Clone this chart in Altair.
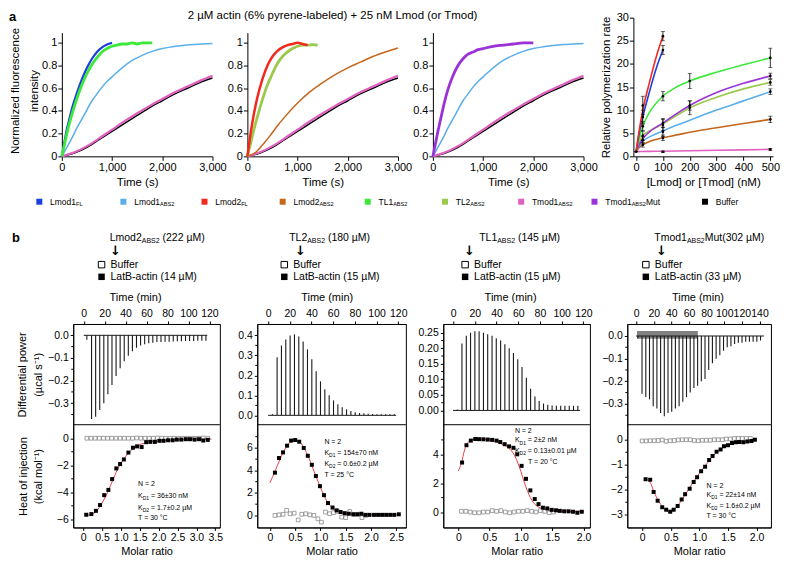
import altair as alt
import pandas as pd

FONT = "Liberation Sans"

# ---------------- (a) pyrene kinetics: normalized fluorescence vs time (s)
LMOD1FL_T = [0, 50, 100, 150, 200, 300, 400, 500, 600, 700, 800, 900, 1000]
LMOD1FL_V = [0, 0.12, 0.24, 0.33, 0.42, 0.56, 0.68, 0.78, 0.86, 0.92, 0.96, 0.985, 1.0]
TL1_T = [0, 50, 100, 150, 200, 300, 400, 500, 600, 700, 800, 900, 1000, 1100, 1200, 1300, 1400, 1500, 1600, 1700, 1800]
TL1_V = [0, 0.1, 0.2, 0.29, 0.37, 0.51, 0.63, 0.73, 0.81, 0.87, 0.92, 0.95, 0.97, 0.98, 0.99, 0.99, 1.0, 0.99, 1.0, 1.0, 1.0]
LMOD1ABS2_T = [0, 100, 200, 300, 400, 500, 600, 700, 800, 900, 1000, 1200, 1400, 1600, 1800, 2000, 2200, 2400, 2600, 2800, 3000]
LMOD1ABS2_V = [0, 0.08, 0.16, 0.25, 0.33, 0.41, 0.49, 0.55, 0.61, 0.66, 0.70, 0.78, 0.845, 0.89, 0.925, 0.95, 0.965, 0.977, 0.985, 0.99, 0.995]
SLOW_T = [0, 250, 500, 750, 1000, 1250, 1500, 1750, 2000, 2250, 2500, 2750, 3000]
BUFFER_V = [0, 0.03, 0.08, 0.15, 0.22, 0.29, 0.36, 0.43, 0.49, 0.55, 0.60, 0.65, 0.69]
TMOD1ABS2_V = [0, 0.035, 0.09, 0.16, 0.235, 0.31, 0.38, 0.445, 0.505, 0.565, 0.615, 0.665, 0.71]
LMOD2FL_T = [0, 50, 100, 150, 200, 300, 400, 500, 600, 700, 800, 900, 1000, 1100, 1200]
LMOD2FL_V = [0, 0.16, 0.3, 0.42, 0.52, 0.68, 0.8, 0.88, 0.93, 0.96, 0.98, 0.99, 1.0, 0.99, 0.98]
TL2_T = [0, 50, 100, 150, 200, 300, 400, 500, 600, 700, 800, 900, 1000, 1100, 1200, 1300, 1400]
TL2_V = [0, 0.09, 0.18, 0.27, 0.35, 0.5, 0.63, 0.73, 0.82, 0.88, 0.92, 0.95, 0.97, 0.98, 0.98, 0.985, 0.98]
LMOD2ABS2_T = [0, 150, 300, 450, 600, 750, 1000, 1250, 1500, 1750, 2000, 2250, 2500, 2750, 3000]
LMOD2ABS2_V = [0, 0.03, 0.1, 0.18, 0.27, 0.35, 0.47, 0.57, 0.65, 0.72, 0.78, 0.83, 0.88, 0.92, 0.955]
TMOD1MUT_T = [0, 50, 100, 150, 200, 300, 400, 500, 600, 700, 800, 900, 1000, 1200, 1400, 1600, 1800, 2000]
TMOD1MUT_V = [0, 0.11, 0.22, 0.32, 0.42, 0.59, 0.71, 0.8, 0.86, 0.9, 0.92, 0.94, 0.95, 0.97, 0.98, 0.99, 1.0, 1.0]

# ---------------- (a) relative polymerization rate vs [Lmod]/[Tmod] (nM)
CONC_FAST = [0, 10, 25, 50, 75, 100]
RATE_LMOD2FL = [1, 5, 10, 16, 21.5, 26]
RATE_LMOD1FL = [1, 4.5, 8.5, 14, 19, 23]
CONC = [0, 10, 25, 50, 100, 150, 200, 300, 400, 500]
RATE_TL1 = [1, 3.5, 6.5, 9.5, 13, 15, 16.3, 18.2, 19.8, 21.3]
RATE_TMOD1MUT = [1, 2.3, 3.8, 5.3, 7.2, 9.2, 11, 13.8, 15.8, 17.4]
RATE_TL2 = [1, 2.8, 4.5, 5.5, 7.0, 8.8, 10.5, 12.8, 14.6, 16.0]
RATE_LMOD1ABS2 = [1, 2.2, 3.3, 4.2, 5.5, 6.7, 7.8, 10, 12, 14]
RATE_LMOD2ABS2 = [1, 1.8, 2.5, 3.2, 4.0, 4.6, 5.2, 6.2, 7.1, 8.0]
RATE_TMOD1ABS2 = [1, 1.02, 1.05, 1.07, 1.1, 1.15, 1.2, 1.3, 1.4, 1.5]
EB_CONC = [0, 25, 25, 25, 25, 25, 25, 100, 100, 100, 100, 100, 100, 100, 100, 200, 200, 200, 500, 500, 500, 500, 500, 500]
EB_MEAN = [1, 11, 8.5, 6.5, 4.5, 3.5, 2.5, 26, 23, 13, 7.2, 6.8, 5.3, 4.0, 1.0, 16.3, 11, 10.5, 21.3, 17.4, 16, 14, 8, 1.5]
EB_ERR = [0, 2, 1.5, 1, 1, 0.8, 0.5, 1, 1, 1, 1, 1.2, 1, 0.6, 0.15, 1.6, 1, 1.5, 2.1, 0.6, 0.6, 0.6, 0.7, 0.2]

# ---------------- (b) ITC: raw injections (min, µcal/s) and binding isotherms
C1_INJ_T = [3, 7.5, 11.4, 15.3, 19.2, 23.1, 27, 30.9, 34.8, 38.7, 42.6, 46.5, 50.4, 54.3, 58.2, 62.1, 66, 69.9, 73.8, 77.7, 81.6, 85.5, 89.4, 93.3, 97.2, 101.1, 105, 108.9, 112.8, 116.7]
C1_INJ_P = [-0.02, -0.37, -0.36, -0.33, -0.30, -0.26, -0.22, -0.18, -0.145, -0.115, -0.09, -0.07, -0.055, -0.045, -0.04, -0.035, -0.033, -0.03, -0.03, -0.028, -0.028, -0.027, -0.026, -0.026, -0.025, -0.025, -0.025, -0.024, -0.024, -0.024]
C1_LATB_X = [0.085, 0.22, 0.34, 0.45, 0.56, 0.67, 0.77, 0.88, 0.98, 1.08, 1.2, 1.32, 1.43, 1.55, 1.67, 1.78, 1.9, 2.02, 2.13, 2.25, 2.37, 2.48, 2.6, 2.72, 2.83, 2.95, 3.07, 3.18, 3.3]
C1_LATB_Y = [-5.66, -5.61, -5.37, -4.94, -4.21, -3.82, -3.02, -2.23, -1.91, -1.57, -1.06, -0.7, -0.6, -0.65, -0.29, -0.27, -0.27, -0.19, -0.19, -0.15, -0.15, -0.1, -0.1, -0.07, -0.07, -0.1, -0.07, -0.17, -0.12]
C1_FIT_X = [0.05, 0.2, 0.35, 0.5, 0.65, 0.8, 0.95, 1.1, 1.25, 1.4, 1.55, 1.7, 1.9, 2.2, 2.6, 3.0, 3.4]
C1_FIT_Y = [-5.72, -5.65, -5.4, -4.8, -4.0, -3.0, -2.1, -1.45, -0.95, -0.62, -0.42, -0.3, -0.22, -0.15, -0.1, -0.08, -0.06]
C1_BUF_X = [0.1, 0.21, 0.32, 0.43, 0.54, 0.65, 0.76, 0.87, 0.98, 1.09, 1.2, 1.31, 1.42, 1.53, 1.64, 1.75, 1.86, 1.97, 2.08, 2.19, 2.3, 2.41, 2.52, 2.63, 2.74, 2.85, 2.96, 3.07, 3.18, 3.3]
C1_BUF_Y = [0, 0, 0, 0, 0, 0, 0, 0, 0, 0, 0, 0, 0.02, 0, 0, 0, 0, 0.02, 0, 0, 0, 0, 0, 0, 0, 0, 0, 0, 0.02, 0]

C2_INJ_T = [4, 8.3, 12.3, 16.3, 20.3, 24.3, 28.3, 32.3, 36.3, 40.3, 44.3, 48.3, 52.3, 56.3, 60.3, 64.3, 68.3, 72.3, 76.3, 80.3, 84.3, 88.3, 92.3, 96.3, 100.3, 104.3, 108.3, 112.3, 116.3]
C2_INJ_P = [0.005, 0.29, 0.35, 0.38, 0.40, 0.405, 0.395, 0.37, 0.33, 0.28, 0.22, 0.17, 0.13, 0.10, 0.075, 0.055, 0.04, 0.03, 0.022, 0.016, 0.012, 0.01, 0.008, 0.007, 0.006, 0.006, 0.005, 0.005, 0.005]
C2_LATB_X = [0.1, 0.18, 0.26, 0.34, 0.42, 0.5, 0.58, 0.67, 0.75, 0.83, 0.91, 0.99, 1.07, 1.15, 1.24, 1.32, 1.4, 1.48, 1.56, 1.65, 1.73, 1.81, 1.89, 1.97, 2.06, 2.14, 2.22, 2.3, 2.38, 2.46, 2.55]
C2_LATB_Y = [3.8, 5.1, 5.6, 6.2, 6.65, 6.7, 6.55, 6.0, 5.3, 4.5, 3.5, 2.6, 1.8, 1.1, 0.7, 0.45, 0.3, 0.2, 0.15, 0.1, 0.1, 0.15, 0.05, 0.05, 0.05, 0.05, 0.05, 0.05, 0.05, 0.05, 0.1]
C2_FIT_X = [0, 0.1, 0.2, 0.3, 0.4, 0.5, 0.6, 0.7, 0.8, 0.9, 1.0, 1.1, 1.2, 1.3, 1.4, 1.5, 1.7, 2.0, 2.55]
C2_FIT_Y = [2.9, 3.9, 5.0, 5.9, 6.5, 6.75, 6.5, 5.8, 4.8, 3.6, 2.5, 1.5, 0.85, 0.45, 0.25, 0.15, 0.08, 0.05, 0.05]
C2_BUF_X = [0.1, 0.18, 0.26, 0.33, 0.4, 0.48, 0.56, 0.63, 0.71, 0.79, 0.87, 0.95, 1.02, 1.1, 1.18, 1.26, 1.34, 1.42, 1.5, 1.58, 1.66, 1.74, 1.82, 1.9]
C2_BUF_Y = [0.0, 0.05, 0.1, 0.45, 0.15, 0.2, -0.4, 0.1, 0.15, 0.05, 0.0, -0.3, -0.6, 0.3, 0.15, 0.25, 0.35, -0.15, -0.2, 0.35, 0.1, 0.1, -0.2, 0.0]

C3_INJ_T = [4, 8.2, 12.2, 16.1, 20.1, 24, 28, 31.9, 35.9, 39.8, 43.8, 47.7, 51.7, 55.6, 59.6, 63.5, 67.5, 71.4, 75.4, 79.3, 83.3, 87.2, 91.2, 95.1, 99.1, 103, 107, 110.9, 114.9]
C3_INJ_P = [0.003, 0.215, 0.24, 0.25, 0.255, 0.255, 0.25, 0.245, 0.24, 0.232, 0.225, 0.213, 0.2, 0.185, 0.165, 0.14, 0.105, 0.07, 0.045, 0.03, 0.022, 0.018, 0.016, 0.015, 0.015, 0.015, 0.015, 0.015, 0.015]
C3_LATB_X = [0.06, 0.13, 0.2, 0.27, 0.33, 0.4, 0.47, 0.54, 0.61, 0.67, 0.74, 0.81, 0.88, 0.94, 1.01, 1.08, 1.15, 1.22, 1.28, 1.35, 1.42, 1.49, 1.56, 1.62, 1.69, 1.76, 1.83, 1.9, 1.97]
C3_LATB_Y = [3.43, 4.63, 4.95, 5.06, 5.05, 5.04, 5.02, 5.0, 4.95, 4.85, 4.7, 4.55, 4.45, 4.0, 3.2, 2.3, 1.5, 0.9, 0.55, 0.3, 0.25, 0.15, 0.12, 0.08, 0.05, 0.05, 0.02, -0.05, 0.02]
C3_FIT_X = [0, 0.05, 0.1, 0.15, 0.25, 0.4, 0.55, 0.7, 0.8, 0.9, 0.95, 1.0, 1.05, 1.1, 1.15, 1.2, 1.3, 1.4, 1.6, 2.0]
C3_FIT_Y = [2.85, 3.4, 4.3, 4.8, 5.05, 5.05, 4.95, 4.7, 4.45, 3.9, 3.4, 2.8, 2.1, 1.5, 1.0, 0.65, 0.3, 0.17, 0.08, 0.04]
C3_BUF_X = [0.05, 0.12, 0.19, 0.26, 0.33, 0.4, 0.47, 0.54, 0.61, 0.68, 0.75, 0.82, 0.89, 0.96, 1.03, 1.1, 1.17, 1.24, 1.31, 1.38, 1.45, 1.52]
C3_BUF_Y = [0.05, 0.05, 0.0, -0.05, -0.05, 0.0, 0.0, 0.1, 0.05, 0.1, 0.0, -0.05, 0.0, 0.05, 0.05, 0.1, 0.05, 0.0, 0.1, 0.05, -0.05, 0.0]

C4_INJ_T = [2, 6.7, 11, 15.2, 19.4, 23.6, 27.8, 32, 36.2, 40.4, 44.6, 48.8, 53, 57.2, 61.4, 65.6, 69.8, 74, 78.2, 82.4, 86.6, 90.8, 95, 99.2, 103.4, 107.6, 111.8, 116, 120.2, 124.4, 128.6, 132.8, 137, 141.2]
C4_INJ_P = [-0.01, -0.255, -0.27, -0.28, -0.31, -0.32, -0.34, -0.355, -0.34, -0.335, -0.32, -0.31, -0.29, -0.27, -0.25, -0.23, -0.22, -0.2, -0.19, -0.15, -0.12, -0.1, -0.085, -0.065, -0.05, -0.045, -0.035, -0.03, -0.03, -0.025, -0.025, -0.025, -0.025, -0.02]
C4_NOISE = {"t": [1], "t2": [70], "p": [-0.012], "p2": [0.022]}
C4_LATB_X = [0.06, 0.14, 0.2, 0.27, 0.35, 0.42, 0.49, 0.55, 0.62, 0.69, 0.75, 0.83, 0.9, 0.96, 1.03, 1.1, 1.17, 1.23, 1.3, 1.37, 1.43, 1.5, 1.57, 1.64, 1.7, 1.77, 1.84, 1.91, 1.97]
C4_LATB_Y = [-1.58, -1.6, -2.09, -2.44, -2.7, -2.8, -2.88, -2.8, -2.65, -2.39, -2.18, -1.96, -1.69, -1.5, -1.26, -1.08, -0.81, -0.65, -0.48, -0.39, -0.26, -0.22, -0.13, -0.1, -0.09, -0.1, -0.07, -0.05, 0.0]
C4_FIT_X = [0.1, 0.15, 0.2, 0.3, 0.4, 0.48, 0.55, 0.65, 0.75, 0.85, 0.95, 1.05, 1.15, 1.25, 1.35, 1.45, 1.6, 1.8, 1.97]
C4_FIT_Y = [-1.6, -1.75, -2.05, -2.5, -2.8, -2.88, -2.82, -2.55, -2.2, -1.85, -1.5, -1.2, -0.9, -0.62, -0.42, -0.28, -0.16, -0.08, -0.04]
C4_BUF_X = [0.0, 0.07, 0.14, 0.21, 0.28, 0.35, 0.42, 0.49, 0.56, 0.63, 0.7, 0.77, 0.84, 0.91, 0.98, 1.05, 1.12, 1.19, 1.26, 1.33, 1.4, 1.47, 1.54, 1.61, 1.68, 1.75, 1.82, 1.89]
C4_BUF_Y = [-0.05, -0.05, -0.04, -0.04, -0.03, -0.01, -0.06, -0.04, -0.03, -0.01, 0.0, 0.0, 0.0, -0.03, -0.04, -0.02, -0.02, -0.02, 0.0, 0.0, 0.0, 0.03, 0.03, 0.05, 0.05, 0.05, 0.05, 0.05]

# minor tick values of the ITC y axes
C1_MINOR_UP = [-0.35, -0.25, -0.15, -0.05]
C1_MINOR_LO = [-5, -3, -1]
C2_MINOR_UP = [0.05, 0.15, 0.25, 0.35]
C2_MINOR_LO = [1, 3, 5, 7]
C3_MINOR_UP = [0.025, 0.075, 0.125, 0.175, 0.225]
C3_MINOR_LO = [1, 3, 5]
C4_MINOR_UP = [-0.35, -0.25, -0.15, -0.05]
C4_MINOR_LO = [-2.5, -1.5, -0.5]

# ---------------- styles
COL = {"Lmod1FL": "#1c3fe0", "Lmod1ABS2": "#5aaeea", "Lmod2FL": "#f02a1c", "Lmod2ABS2": "#c4661c",
       "TL1": "#3ce83a", "TL2": "#9cc84c", "Tmod1": "#e060c0", "Tmod1Mut": "#9a32d8", "Buffer": "#000000"}
TRACE = "#1a1a1a"
FITRED = "#e8404a"
ONE = pd.DataFrame({"k": [0]})

ARIAL = dict(zip("ABCDEFGHIJKLMNOPQRSTUVWXYZ", [.667, .667, .722, .722, .667, .611, .778, .722, .278, .5, .667, .556, .833, .722, .778, .667, .778, .722, .667, .611, .722, .667, .944, .667, .667, .611]))
ARIAL.update(dict(zip("abcdefghijklmnopqrstuvwxyz", [.556, .556, .5, .556, .556, .278, .556, .556, .222, .222, .5, .222, .833, .556, .556, .556, .556, .333, .5, .278, .556, .5, .722, .5, .5, .5])))
ARIAL.update({c: .556 for c in "0123456789"})
ARIAL.update({" ": .278, "(": .333, ")": .333, ".": .278, ",": .278, "-": .333, "=": .584, "±": .584, "µ": .576, "°": .4, "%": .889, "+": .584})


def tw(s, size):
    return sum(ARIAL.get(c, 0.556) for c in s) * size


def txt(s, x, y, size, align="left", weight="normal", color="black", font=FONT):
    return alt.Chart(ONE).mark_text(text=s, fontSize=size, align=align, baseline="middle",
                                    fontWeight=weight, color=color, font=font).encode(
        x=alt.value(x), y=alt.value(y))


def rich(pieces, x, y, size, sub_size, align="left"):
    items = []
    for s, sub in pieces:
        fs = sub_size if sub else size
        lead = len(s) - len(s.lstrip(" "))
        items.append((s.lstrip(" "), sub, fs, lead * ARIAL[" "] * fs))
    total = sum(g + tw(s, fs) for s, sub, fs, g in items)
    x0 = x - total / 2 if align == "center" else x
    out = []
    for s, sub, fs, g in items:
        x0 += g
        out.append(txt(s, x0, y + (0.32 * size if sub else 0), fs))
        x0 += tw(s, fs)
    return out


def sq(x, y, color, size, filled=True):
    return alt.Chart(ONE).mark_square(size=size, color=color, filled=filled, opacity=1,
                                      strokeWidth=1).encode(x=alt.value(x), y=alt.value(y))


# ---------------- row a
A_H = 124          # kinetics panels: 0 .. 1.09
A4_H = 139         # rate panel: 0 .. 30
A_OFF = 15         # kinetics panels start lower than the rate panel


def kin_panel(lines, ytitle, extra):
    xs = alt.Scale(domain=[0, 3000], nice=False, zero=False)
    ys = alt.Scale(domain=[0, 1.09], nice=False, zero=False)
    xax = alt.Axis(values=[0, 1000, 2000, 3000], format=",d", title="Time (s)", labelFontSize=11,
                   titleFontSize=11.5, tickSize=4, labelPadding=1, titlePadding=4, labelOverlap=False)
    yopts = dict(values=[0, 0.2, 0.4, 0.6, 0.8, 1.0],
                 labelExpr="datum.value == 0 ? '0' : datum.value == 1 ? '1' : format(datum.value, '.1f')",
                 labelFontSize=11, tickSize=4, labelPadding=1, labelOverlap=False, labelBound=False)
    if ytitle:
        yax = alt.Axis(title=["Normalized fluorescence", "intensity"], titleFontSize=11.5, titleLineHeight=19.5,
                       titlePadding=2, titleY=58, **yopts)
    else:
        yax = alt.Axis(title=None, **yopts)
    layers = []
    for t, v, c, sw in lines:
        df = pd.DataFrame({"t": t, "v": v})
        layers.append(alt.Chart(df).mark_line(color=c, strokeWidth=sw, interpolate="monotone").encode(
            x=alt.X("t:Q", scale=xs, axis=xax), y=alt.Y("v:Q", scale=ys, axis=yax)))
    return alt.layer(*layers, *extra).properties(width=151, height=A_H)


a_texts = [txt("a", -53, -1 - A_OFF, 13, weight="bold"),
           txt("2 µM actin (6% pyrene-labeled) + 25 nM Lmod (or Tmod)", 271.4, -1.6 - A_OFF, 11.5, align="center")]
LEG_X = [-22.6, 61.7, 143, 221.4, 306.7, 384.1, 460.5, 534, 644.8]
LEG_Y = 184.5 - A_OFF
LEG_ITEMS = [("Lmod1FL", [("Lmod1", 0), ("FL", 1)]), ("Lmod1ABS2", [("Lmod1", 0), ("ABS2", 1)]),
             ("Lmod2FL", [("Lmod2", 0), ("FL", 1)]), ("Lmod2ABS2", [("Lmod2", 0), ("ABS2", 1)]),
             ("TL1", [("TL1", 0), ("ABS2", 1)]), ("TL2", [("TL2", 0), ("ABS2", 1)]),
             ("Tmod1", [("Tmod1", 0), ("ABS2", 1)]), ("Tmod1Mut", [("Tmod1", 0), ("ABS2", 1), ("Mut", 0)]),
             ("Buffer", [("Buffer", 0)])]
for lx, (key, pieces) in zip(LEG_X, LEG_ITEMS):
    a_texts.append(sq(lx, LEG_Y, COL[key], 36))
    a_texts += rich(pieces, lx + 10.8, LEG_Y, 8.5, 5.6)

a1 = kin_panel([(SLOW_T, BUFFER_V, COL["Buffer"], 1.5), (SLOW_T, TMOD1ABS2_V, COL["Tmod1"], 2.2),
                (LMOD1ABS2_T, LMOD1ABS2_V, COL["Lmod1ABS2"], 1.5), (LMOD1FL_T, LMOD1FL_V, COL["Lmod1FL"], 2.2),
                (TL1_T, TL1_V, COL["TL1"], 2.8)], True, a_texts)
a2 = kin_panel([(SLOW_T, BUFFER_V, COL["Buffer"], 1.5), (SLOW_T, TMOD1ABS2_V, COL["Tmod1"], 2.2),
                (LMOD2ABS2_T, LMOD2ABS2_V, COL["Lmod2ABS2"], 1.5), (TL2_T, TL2_V, COL["TL2"], 2.8),
                (LMOD2FL_T, LMOD2FL_V, COL["Lmod2FL"], 2.5)], False, [])
a3 = kin_panel([(SLOW_T, BUFFER_V, COL["Buffer"], 1.5), (SLOW_T, TMOD1ABS2_V, COL["Tmod1"], 2.2),
                (LMOD1ABS2_T, LMOD1ABS2_V, COL["Lmod1ABS2"], 1.5), (TMOD1MUT_T, TMOD1MUT_V, COL["Tmod1Mut"], 2.8)],
               False, [])


def rate_panel():
    xs = alt.Scale(domain=[-10, 510], nice=False, zero=False)
    ys = alt.Scale(domain=[0, 30], nice=False, zero=False)
    xax = alt.Axis(values=[0, 100, 200, 300, 400, 500], title="[Lmod] or [Tmod] (nM)", labelFontSize=11,
                   titleFontSize=11.5, tickSize=4, labelPadding=1, titlePadding=4, labelOverlap=False)
    yax = alt.Axis(values=[0, 5, 10, 15, 20, 25, 30], title="Relative polymerization rate", labelFontSize=11,
                   titleFontSize=11.5, tickSize=4, labelPadding=1, titlePadding=5, labelOverlap=False)
    series = [(CONC, RATE_TMOD1ABS2, "Tmod1"), (CONC, RATE_LMOD2ABS2, "Lmod2ABS2"),
              (CONC, RATE_LMOD1ABS2, "Lmod1ABS2"), (CONC, RATE_TL2, "TL2"), (CONC, RATE_TMOD1MUT, "Tmod1Mut"),
              (CONC, RATE_TL1, "TL1"), (CONC_FAST, RATE_LMOD1FL, "Lmod1FL"), (CONC_FAST, RATE_LMOD2FL, "Lmod2FL")]
    layers = []
    for c, r, key in series:
        layers.append(alt.Chart(pd.DataFrame({"c": c, "r": r})).mark_line(
            color=COL[key], strokeWidth=1.6, interpolate="monotone").encode(
            x=alt.X("c:Q", scale=xs, axis=xax), y=alt.Y("r:Q", scale=ys, axis=yax)))
    eb = pd.DataFrame({"c": EB_CONC, "m": EB_MEAN,
                       "r": [m - e for m, e in zip(EB_MEAN, EB_ERR)],
                       "r2": [m + e for m, e in zip(EB_MEAN, EB_ERR)]})
    X = alt.X("c:Q", scale=xs, axis=xax)
    layers.append(alt.Chart(eb).mark_rule(color="black", strokeWidth=0.8).encode(
        x=X, y=alt.Y("r:Q", scale=ys, axis=yax), y2="r2:Q"))
    for f in ["r", "r2"]:
        layers.append(alt.Chart(eb).mark_tick(orient="horizontal", size=4, thickness=0.8, color="black").encode(
            x=X, y=alt.Y(f + ":Q", scale=ys, axis=yax)))
    layers.append(alt.Chart(eb).mark_circle(size=7, color="black", opacity=1).encode(
        x=X, y=alt.Y("m:Q", scale=ys, axis=yax)))
    return alt.layer(*layers).properties(width=140, height=A4_H)


a4 = rate_panel()

# ---------------- row b
H_UP = 101
H_B = 204


def itc_unit(c, w, first):
    xs_u = alt.Scale(domain=c["up_xdom"], nice=False, zero=False)
    ys_u = alt.Scale(domain=c["up_ydom"], range=[H_UP, 0], nice=False, zero=False)
    ax_xu = alt.Axis(orient="top", values=c["up_xvals"], format="d", title="Time (min)", titleX=c["tx"],
                     titlePadding=6, labelPadding=3, tickSize=3, labelFontSize=10.5, titleFontSize=11,
                     labelOverlap=False)
    common_y = dict(orient="left", tickSize=3, labelPadding=2, labelFontSize=10.5, labelOverlap=False)
    if first:
        ax_yu = alt.Axis(values=c["up_yvals"], format=c["up_fmt"], title=["Differential power", "(µcal s⁻¹)"],
                         titleFontSize=11, titleLineHeight=16, titlePadding=4, **common_y)
        ax_yl = alt.Axis(values=c["lo_yvals"], format="d", title=["Heat of injection", "(kcal mol⁻¹)"],
                         titleFontSize=11, titleLineHeight=15, titlePadding=13, **common_y)
    else:
        ax_yu = alt.Axis(values=c["up_yvals"], format=c["up_fmt"], title=None, **common_y)
        ax_yl = alt.Axis(values=c["lo_yvals"], format="d", title=None, **common_y)
    Xu = alt.X("t:Q", scale=xs_u, axis=ax_xu)
    Yu = alt.Y("p:Q", scale=ys_u, axis=ax_yu)
    up = []
    if c.get("noise"):
        up.append(alt.Chart(pd.DataFrame(c["noise"])).mark_rect(color=TRACE, opacity=0.55).encode(
            x=Xu, x2="t2:Q", y=Yu, y2="p2:Q"))
    up += [alt.Chart(pd.DataFrame({"t": c["base_t"], "p": [0.0, 0.0]})).mark_line(
        color=TRACE, strokeWidth=1).encode(x=Xu, y=Yu),
           alt.Chart(pd.DataFrame({"t": c["inj_t"], "p": c["inj_p"], "p0": [0.0] * len(c["inj_t"])})).mark_rule(
               color=TRACE, strokeWidth=1.1).encode(x=Xu, y=Yu, y2="p0:Q"),
           alt.Chart(pd.DataFrame({"p": c["minor_up"]})).mark_rule(color="black", strokeWidth=1).encode(
               x=alt.value(-2), x2=alt.value(0), y=Yu)]

    xs_l = alt.Scale(domain=c["lo_xdom"], nice=False, zero=False)
    ys_l = alt.Scale(domain=c["lo_ydom"], range=[H_B, H_UP], nice=False, zero=False)
    ax_xl = alt.Axis(orient="bottom", values=c["lo_xvals"],
                     labelExpr="datum.value == 0 ? '0' : format(datum.value, '.1f')",
                     title="Molar ratio", tickSize=3, labelPadding=2, labelFontSize=10.5, titleFontSize=11,
                     titlePadding=3, labelOverlap=False)
    Xl = alt.X("m:Q", scale=xs_l, axis=ax_xl)
    Yl = alt.Y("h:Q", scale=ys_l, axis=ax_yl)
    lo = [alt.Chart(pd.DataFrame({"m": c["fit_x"], "h": c["fit_y"]})).mark_line(
        color=FITRED, strokeWidth=1, interpolate="monotone").encode(x=Xl, y=Yl),
          alt.Chart(pd.DataFrame({"m": c["buf_x"], "h": c["buf_y"]})).mark_square(
              size=14, filled=False, color="#8a8a8a", strokeWidth=0.8, opacity=1).encode(x=Xl, y=Yl),
          alt.Chart(pd.DataFrame({"m": c["latb_x"], "h": c["latb_y"]})).mark_square(
              size=16, filled=True, color="black", opacity=1).encode(x=Xl, y=Yl),
          alt.Chart(pd.DataFrame({"h": c["minor_lo"]})).mark_rule(color="black", strokeWidth=1).encode(
              x=alt.value(-2), x2=alt.value(0), y=Yl),
          alt.Chart(ONE).mark_rule(color="black", strokeWidth=1).encode(y=alt.datum(c["lo_ydom"][1]))]

    texts = []
    h = c["head"]
    texts += rich(h["pieces"], h["hx"], -86.5, 10.5, 7)
    texts.append(txt("↓", h["ax"], -73.5, 13, align="center", weight="bold", font="DejaVu Sans"))
    texts.append(sq(h["sx"], -59.5, "black", 42, filled=False))
    texts.append(txt("Buffer", h["sx"] + 9, -59.5, 10.5))
    texts.append(sq(h["sx"], -47.3, "black", 42, filled=True))
    texts.append(txt(h["latb"], h["sx"] + 9, -47.3, 10.5))
    an = c["ann"]
    texts.append(txt("N = 2", an["x"], an["ys"][0], 7))
    texts += rich([("K", 0), ("D1", 1), (" = " + an["kd1"], 0)], an["x"], an["ys"][1], 7, 5)
    texts += rich([("K", 0), ("D2", 1), (" = " + an["kd2"], 0)], an["x"], an["ys"][2], 7, 5)
    texts.append(txt("T = " + an["temp"], an["tx"], an["ys"][3], 7))
    if first:
        texts.append(txt("b", -61.5, -86.3, 13, weight="bold"))

    return alt.layer(alt.layer(*up), alt.layer(*lo), *texts).resolve_scale(
        x="independent", y="independent").properties(
        width=w, height=H_B, view=alt.ViewBackground(stroke="black", strokeWidth=1))


ITC = [
    dict(up_xdom=[-10, 130], up_xvals=[0, 20, 40, 60, 80, 100, 120], up_ydom=[-0.395, 0.05],
         up_yvals=[0, -0.1, -0.2, -0.3], up_fmt=".1f", tx=62, base_t=[0, 118], inj_t=C1_INJ_T, inj_p=C1_INJ_P,
         lo_xdom=[-0.26, 3.62], lo_xvals=[0, 0.5, 1, 1.5, 2, 2.5, 3, 3.5], lo_ydom=[-6.6, 1.0],
         lo_yvals=[-6, -4, -2, 0], fit_x=C1_FIT_X, fit_y=C1_FIT_Y, buf_x=C1_BUF_X, buf_y=C1_BUF_Y,
         latb_x=C1_LATB_X, latb_y=C1_LATB_Y, minor_up=C1_MINOR_UP, minor_lo=C1_MINOR_LO,
         head=dict(pieces=[("Lmod2", 0), ("ABS2", 1), (" (222 µM)", 0)], hx=36.6, ax=42.4, sx=28.4,
                   latb="LatB-actin (14 µM)"),
         ann=dict(x=65, tx=65, ys=[160.1, 172.5, 184.3, 194.1], kd1="36±30 nM", kd2="1.7±0.2 µM", temp="30 °C")),
    dict(up_xdom=[-10, 127], up_xvals=[0, 20, 40, 60, 80, 100, 120], up_ydom=[-0.047, 0.457],
         up_yvals=[0, 0.1, 0.2, 0.3, 0.4], up_fmt=".1f", tx=69.6, base_t=[0, 118], inj_t=C2_INJ_T, inj_p=C2_INJ_P,
         lo_xdom=[-0.25, 2.69], lo_xvals=[0, 0.5, 1, 1.5, 2, 2.5], lo_ydom=[-1.07, 8.06],
         lo_yvals=[0, 2, 4, 6], fit_x=C2_FIT_X, fit_y=C2_FIT_Y, buf_x=C2_BUF_X, buf_y=C2_BUF_Y,
         latb_x=C2_LATB_X, latb_y=C2_LATB_Y, minor_up=C2_MINOR_UP, minor_lo=C2_MINOR_LO,
         head=dict(pieces=[("TL2", 0), ("ABS2", 1), (" (180 µM)", 0)], hx=32.0, ax=43.4, sx=27.1,
                   latb="LatB-actin (15 µM)"),
         ann=dict(x=67.3, tx=67.3, ys=[118.3, 129.1, 139.9, 151], kd1="154±70 nM", kd2="0.6±0.2 µM", temp="25 °C")),
    dict(up_xdom=[-9, 126], up_xvals=[0, 20, 40, 60, 80, 100, 120], up_ydom=[-0.046, 0.278],
         up_yvals=[0, 0.05, 0.1, 0.15, 0.2, 0.25], up_fmt=".2f", tx=67, base_t=[0, 117], inj_t=C3_INJ_T,
         inj_p=C3_INJ_P, lo_xdom=[-0.24, 2.1], lo_xvals=[0, 0.5, 1, 1.5, 2], lo_ydom=[-1.07, 6.05],
         lo_yvals=[0, 2, 4], fit_x=C3_FIT_X, fit_y=C3_FIT_Y, buf_x=C3_BUF_X, buf_y=C3_BUF_Y,
         latb_x=C3_LATB_X, latb_y=C3_LATB_Y, minor_up=C3_MINOR_UP, minor_lo=C3_MINOR_LO,
         head=dict(pieces=[("TL1", 0), ("ABS2", 1), (" (145 µM)", 0)], hx=36.0, ax=26.2, sx=21.9,
                   latb="LatB-actin (15 µM)"),
         ann=dict(x=71.8, tx=85, ys=[106.9, 116.7, 127.5, 138.2], kd1="2±2 nM", kd2="0.13±0.01 µM", temp="20 °C")),
    dict(up_xdom=[-10, 153], up_xvals=[0, 20, 40, 60, 80, 100, 120, 140], up_ydom=[-0.392, 0.053],
         up_yvals=[0, -0.1, -0.2, -0.3], up_fmt=".1f", tx=70.3, base_t=[0, 145], inj_t=C4_INJ_T, inj_p=C4_INJ_P,
         noise=C4_NOISE, lo_xdom=[-0.26, 2.25], lo_xvals=[0, 0.5, 1, 1.5, 2], lo_ydom=[-3.51, 0.6],
         lo_yvals=[-3, -2, -1, 0], fit_x=C4_FIT_X, fit_y=C4_FIT_Y, buf_x=C4_BUF_X, buf_y=C4_BUF_Y,
         latb_x=C4_LATB_X, latb_y=C4_LATB_Y, minor_up=C4_MINOR_UP, minor_lo=C4_MINOR_LO,
         head=dict(pieces=[("Tmod1", 0), ("ABS2", 1), ("Mut(302 µM)", 0)], hx=27.1, ax=34.3, sx=18.6,
                   latb="LatB-actin (33 µM)"),
         ann=dict(x=79.4, tx=79.4, ys=[162.7, 171.6, 182, 192.8], kd1="22±14 nM", kd2="1.6±0.2 µM", temp="30 °C")),
]
B_W = [147, 149, 147, 144]
cols = [itc_unit(c, w, i == 0) for i, (c, w) in enumerate(zip(ITC, B_W))]


def spacer():
    return alt.Chart(ONE).mark_point(opacity=0).encode(x=alt.value(0), y=alt.value(0)).properties(width=1, height=1)


kin_row = alt.vconcat(spacer(), alt.hconcat(a1, a2, a3, spacing=35, bounds="flush"),
                      spacing=A_OFF - 1, bounds="flush")
rowA = alt.hconcat(kin_row, a4, spacing=573, bounds="flush")
rowB = alt.hconcat(spacer(), alt.hconcat(*cols, spacing=37.5, bounds="flush"), spacing=10.4, bounds="flush")

chart = alt.vconcat(rowA, rowB, spacing=307.1, bounds="flush").properties(padding=0).configure(
    font=FONT).configure_view(stroke="transparent").configure_axis(
    grid=False, labelFont=FONT, titleFont=FONT, labelColor="black", titleColor="black", domainColor="black",
    tickColor="black", titleFontWeight="normal", labelFlush=False, labelOverlap=False, domainWidth=1,
    tickWidth=1)

chart.save("out.html", embed_options={"renderer": "svg", "actions": False})
